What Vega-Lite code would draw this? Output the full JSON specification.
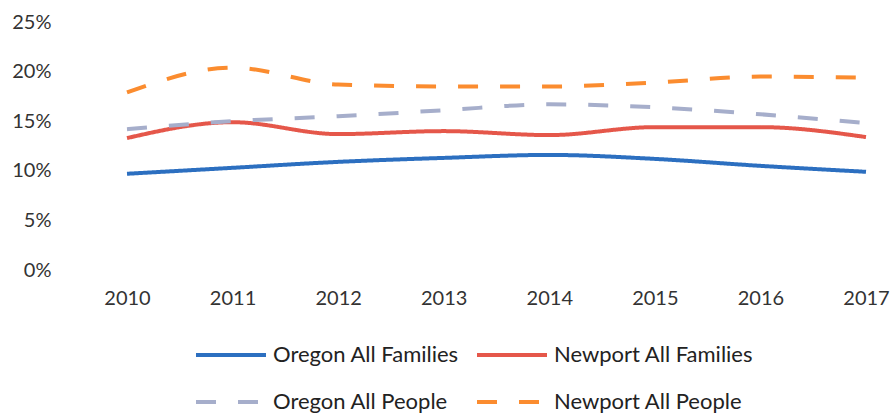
{
  "$schema": "https://vega.github.io/schema/vega-lite/v6.json",
  "width": 739,
  "height": 248,
  "autosize": "none",
  "padding": {"left": 127, "top": 22, "right": 29, "bottom": 144},
  "background": "white",
  "config": {
    "view": {"stroke": null},
    "font": "Lato",
    "axis": {"labelFont": "Lato", "labelColor": "#333333", "labelFontSize": 20},
    "legend": {"labelFont": "Lato", "labelColor": "#222222", "labelFontSize": 22}
  },
  "data": {
    "values": [
      {"year": "2010", "series": "Oregon All Families", "value": 0.097},
      {"year": "2011", "series": "Oregon All Families", "value": 0.103},
      {"year": "2012", "series": "Oregon All Families", "value": 0.109},
      {"year": "2013", "series": "Oregon All Families", "value": 0.113},
      {"year": "2014", "series": "Oregon All Families", "value": 0.116},
      {"year": "2015", "series": "Oregon All Families", "value": 0.112},
      {"year": "2016", "series": "Oregon All Families", "value": 0.105},
      {"year": "2017", "series": "Oregon All Families", "value": 0.099},
      {"year": "2010", "series": "Newport All Families", "value": 0.133},
      {"year": "2011", "series": "Newport All Families", "value": 0.149},
      {"year": "2012", "series": "Newport All Families", "value": 0.137},
      {"year": "2013", "series": "Newport All Families", "value": 0.140},
      {"year": "2014", "series": "Newport All Families", "value": 0.136},
      {"year": "2015", "series": "Newport All Families", "value": 0.144},
      {"year": "2016", "series": "Newport All Families", "value": 0.144},
      {"year": "2017", "series": "Newport All Families", "value": 0.134},
      {"year": "2010", "series": "Oregon All People", "value": 0.142},
      {"year": "2011", "series": "Oregon All People", "value": 0.150},
      {"year": "2012", "series": "Oregon All People", "value": 0.155},
      {"year": "2013", "series": "Oregon All People", "value": 0.161},
      {"year": "2014", "series": "Oregon All People", "value": 0.167},
      {"year": "2015", "series": "Oregon All People", "value": 0.164},
      {"year": "2016", "series": "Oregon All People", "value": 0.157},
      {"year": "2017", "series": "Oregon All People", "value": 0.148},
      {"year": "2010", "series": "Newport All People", "value": 0.179},
      {"year": "2011", "series": "Newport All People", "value": 0.204},
      {"year": "2012", "series": "Newport All People", "value": 0.187},
      {"year": "2013", "series": "Newport All People", "value": 0.185},
      {"year": "2014", "series": "Newport All People", "value": 0.185},
      {"year": "2015", "series": "Newport All People", "value": 0.189},
      {"year": "2016", "series": "Newport All People", "value": 0.195},
      {"year": "2017", "series": "Newport All People", "value": 0.194}
    ]
  },
  "mark": {"type": "line", "interpolate": "monotone", "strokeWidth": 4},
  "encoding": {
    "x": {
      "field": "year", "type": "ordinal",
      "scale": {"type": "point", "padding": 0},
      "axis": {"labelAngle": 0, "domain": false, "ticks": false, "title": null, "labelPadding": 18}
    },
    "y": {
      "field": "value", "type": "quantitative",
      "scale": {"domain": [0, 0.25]},
      "axis": {"format": ".0%", "values": [0, 0.05, 0.1, 0.15, 0.2, 0.25], "grid": false, "domain": false, "ticks": false, "title": null, "labelPadding": 76}
    },
    "color": {
      "field": "series", "type": "nominal",
      "scale": {
        "domain": ["Oregon All Families", "Newport All Families", "Oregon All People", "Newport All People"],
        "range": ["#2c6fc0", "#e5574a", "#a6aecb", "#fb8c2f"]
      },
      "legend": {"orient": "none", "direction": "horizontal", "legendX": 92, "legendY": 321, "columns": 2, "title": null, "symbolType": "M-3.5,0H3.5", "symbolSize": 400, "symbolStrokeWidth": 4, "labelOffset": 30, "labelLimit": 320, "columnPadding": 10, "rowPadding": 24}
    },
    "strokeDash": {
      "field": "series", "type": "nominal",
      "scale": {
        "domain": ["Oregon All Families", "Newport All Families", "Oregon All People", "Newport All People"],
        "range": [[1, 0], [1, 0], [20, 22], [20, 22]]
      },
      "legend": {"orient": "none", "direction": "horizontal", "legendX": 92, "legendY": 321, "columns": 2, "title": null, "symbolType": "M-3.5,0H3.5", "symbolSize": 400, "symbolStrokeWidth": 4, "labelOffset": 30, "labelLimit": 320, "columnPadding": 10, "rowPadding": 24}
    }
  }
}
